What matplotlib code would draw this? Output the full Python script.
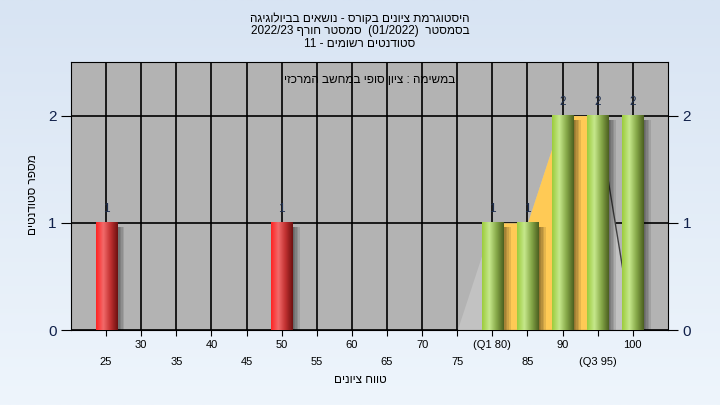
import numpy as np
import matplotlib
matplotlib.use('Agg')
import matplotlib.pyplot as plt
from matplotlib.colors import LinearSegmentedColormap

plt.rcParams['font.family'] = ['Liberation Sans', 'DejaVu Sans']

# Hebrew strings are stored in visual (left-to-right) order
title_lines = ['הגיגולויבב םיאשונ - סרוקב םינויצ תמרגוטסיה',
               '2022/23 ףרוח רטסמס  (01/2022)  רטסמסב',
               '11 - םימושר םיטנדוטס']
task_label = 'יזכרמה בשחמב יפוס ןויצ : המישמב'
x_label = 'םינויצ חווט'
y_label = 'םיטנדוטס רפסמ'

grades = [25, 50, 80, 85, 90, 95, 100]
counts = [1, 1, 1, 1, 2, 2, 2]
passed = [False, False, True, True, True, True, True]

tick_vals = [25, 30, 35, 40, 45, 50, 55, 60, 65, 70, 75, 80, 85, 90, 95, 100]
tick_text = {80: '(Q1 80)', 95: '(Q3 95)'}

# frequency polygon behind the bars, quartile part in yellow
poly_x = [75, 80, 85, 90, 95, 100]
poly_y = [0, 1, 1, 2, 2, 0]
q1, q3 = 80, 95

red_cmap = LinearSegmentedColormap.from_list('r', ['#ff2424', '#f26a6a', '#c03030', '#6e1010'])
green_cmap = LinearSegmentedColormap.from_list('g', ['#9ccc3c', '#c6e88c', '#86a848', '#4c6020'])

fig = plt.figure(figsize=(7.2, 4.05), dpi=100)
bg = fig.add_axes([0, 0, 1, 1], zorder=-10)
grad = np.linspace(0, 1, 256).reshape(-1, 1)
bg.imshow(grad, aspect='auto', extent=[0, 1, 0, 1],
          cmap=LinearSegmentedColormap.from_list('bg', ['#eef5fc', '#d8e4f3']), origin='lower')
bg.axis('off')

ax = fig.add_axes([0.0986, 0.185, 0.829, 0.662])
ax.set_facecolor('#b3b3b3')
ax.set_xlim(20, 105)
ax.set_ylim(0, 2.5)

px = np.array(poly_x, dtype=float)
py = np.array(poly_y, dtype=float)
ax.fill_between(px, py, color='#c2c2c2', zorder=1, lw=0)
m = (px >= q1) & (px <= q3)
ax.fill_between(px[m], py[m], color='#ffca55', zorder=1.5, lw=0)
ax.plot(px[-2:], py[-2:], color='#404040', lw=1, zorder=1.6)

ax.set_xticks(tick_vals)
ax.set_xticklabels([])
ax.set_yticks([0, 1, 2])
ax.grid(True, color='black', lw=1.2, zorder=0.5)
ax.set_axisbelow(True)
for s in ax.spines.values():
    s.set_color('black')
ax.tick_params(axis='x', length=4, color='black')
ax.tick_params(axis='y', length=7, color='black', labelsize=11, labelcolor='#10204a')

for i, v in enumerate(tick_vals):
    lab = tick_text.get(v, str(v))
    yy = -0.056 if i % 2 == 1 else -0.12
    ax.text(v, yy, lab, ha='center', va='center', fontsize=8, transform=ax.get_xaxis_transform())

w = 3.0
for g, c, ok in zip(grades, counts, passed):
    cmap = green_cmap if ok else red_cmap
    # shadow
    for k in range(5):
        ax.add_patch(plt.Rectangle((g + w / 2, -0.02), 0.22 * (5 - k), c - 0.02, color='black',
                                   alpha=0.1, lw=0, zorder=2))
    ax.imshow(np.linspace(0, 1, 64).reshape(1, -1), cmap=cmap, aspect='auto',
              extent=[g - w / 2, g + w / 2, 0, c], zorder=3)
    ax.text(g, c + 0.07, str(c), ha='center', va='bottom', fontsize=8.5, color='#203050', zorder=4)

ax.set_xlim(20, 105)
ax.set_ylim(0, 2.5)
ax.text(0.5, 0.955, task_label, transform=ax.transAxes, ha='center', va='top', fontsize=8.5)

ax2 = ax.twinx()
ax2.set_ylim(0, 2.5)
ax2.set_yticks([0, 1, 2])
ax2.tick_params(axis='y', length=7, color='black', labelsize=11, labelcolor='#10204a')
for s in ax2.spines.values():
    s.set_visible(False)

fig.text(0.5, 0.968, '\n'.join(title_lines), ha='center', va='top', fontsize=8.5, linespacing=1.05)
fig.text(0.5, 0.062, x_label, ha='center', va='center', fontsize=8.5)
fig.text(0.046, 0.52, y_label, ha='center', va='center', rotation=90, fontsize=8.5)

fig.savefig('out.png', dpi=100)
